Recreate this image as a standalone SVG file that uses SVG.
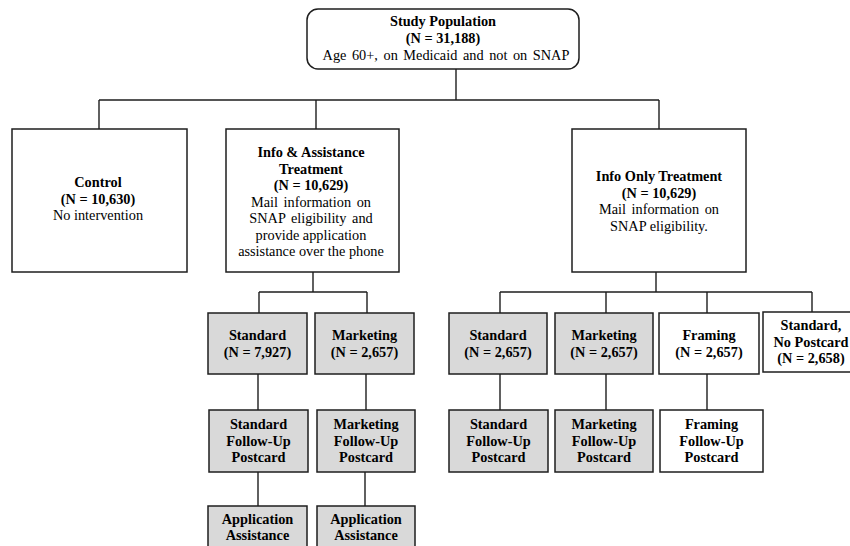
<svg xmlns="http://www.w3.org/2000/svg" width="850" height="546" viewBox="0 0 850 546">
<style>
.box{fill:#fff;stroke:#1e1e1e;stroke-width:1.5}
.g{fill:#d9d9d9}
.c{fill:none;stroke:#1e1e1e;stroke-width:1.4}
text{font-family:"Liberation Serif","Times New Roman",serif;font-size:14.3px;fill:#000;text-anchor:middle}
.b{font-weight:bold}
.w{word-spacing:2px}
</style>
<rect width="850" height="546" fill="#fff"/>
<g id="connectors">
<path class="c" d="M456,69V100M99,100H659M99,100V129M316,100V129M659,100V129"/>
<path class="c" d="M313,272V292M259,292H367M259,292V313M367,292V313"/>
<path class="c" d="M258,374V410M366,374V410M258,472V506M365,472V506"/>
<path class="c" d="M656,272V292M500,292H812M500,292V313M606,292V313M707,292V313M812,292V312"/>
<path class="c" d="M500,374V410M606,374V410M707,374V410"/>
</g>
<g id="study-population">
<rect class="box" x="307" y="9" width="272" height="60" rx="11"/>
<text x="443" y="26" class="b">Study Population</text>
<text x="443" y="43" class="b">(N = 31,188)</text>
<text x="446" y="60" class="w">Age 60+, on Medicaid and not on SNAP</text>
</g>
<g id="control">
<rect class="box" x="12" y="129" width="175" height="143"/>
<text x="98" y="187" class="b">Control</text>
<text x="98" y="204" class="b">(N = 10,630)</text>
<text x="98" y="220">No intervention</text>
</g>
<g id="info-assistance">
<rect class="box" x="226" y="129" width="173" height="143"/>
<text x="311" y="157" class="b">Info &amp; Assistance</text>
<text x="311" y="173.5" class="b">Treatment</text>
<text x="311" y="190" class="b">(N = 10,629)</text>
<text x="311" y="206.5" class="w">Mail information on</text>
<text x="311" y="223" class="w">SNAP eligibility and</text>
<text x="311" y="239.5">provide application</text>
<text x="311" y="256">assistance over the phone</text>
</g>
<g id="info-only">
<rect class="box" x="572" y="129" width="174" height="143"/>
<text x="659" y="181" class="b">Info Only Treatment</text>
<text x="659" y="197.5" class="b">(N = 10,629)</text>
<text x="659" y="214" class="w">Mail information on</text>
<text x="659" y="231">SNAP eligibility.</text>
</g>
<g id="ia-standard">
<rect class="box g" x="208" y="313" width="99" height="61"/>
<text x="257.5" y="340" class="b">Standard</text>
<text x="257.5" y="357" class="b">(N = 7,927)</text>
</g>
<g id="ia-marketing">
<rect class="box g" x="315" y="313" width="99" height="61"/>
<text x="364.5" y="340" class="b">Marketing</text>
<text x="364.5" y="357" class="b">(N = 2,657)</text>
</g>
<g id="ia-standard-followup">
<rect class="box g" x="209" y="410" width="99" height="62"/>
<text x="258.5" y="429" class="b">Standard</text>
<text x="258.5" y="445.5" class="b">Follow-Up</text>
<text x="258.5" y="462" class="b">Postcard</text>
</g>
<g id="ia-marketing-followup">
<rect class="box g" x="317" y="410" width="98" height="62"/>
<text x="366" y="429" class="b">Marketing</text>
<text x="366" y="445.5" class="b">Follow-Up</text>
<text x="366" y="462" class="b">Postcard</text>
</g>
<g id="ia-standard-application">
<rect class="box g" x="208" y="506" width="99" height="50"/>
<text x="257.5" y="524" class="b">Application</text>
<text x="257.5" y="540" class="b">Assistance</text>
</g>
<g id="ia-marketing-application">
<rect class="box g" x="317" y="506" width="98" height="50"/>
<text x="366" y="524" class="b">Application</text>
<text x="366" y="540" class="b">Assistance</text>
</g>
<g id="io-standard">
<rect class="box g" x="449" y="313" width="98" height="61"/>
<text x="498" y="340" class="b">Standard</text>
<text x="498" y="357" class="b">(N = 2,657)</text>
</g>
<g id="io-marketing">
<rect class="box g" x="555" y="313" width="98" height="61"/>
<text x="604" y="340" class="b">Marketing</text>
<text x="604" y="357" class="b">(N = 2,657)</text>
</g>
<g id="io-framing">
<rect class="box" x="659" y="313" width="100" height="61"/>
<text x="709" y="340" class="b">Framing</text>
<text x="709" y="357" class="b">(N = 2,657)</text>
</g>
<g id="io-standard-no-postcard">
<rect class="box" x="763" y="312" width="97" height="60"/>
<text x="811" y="330" class="b">Standard,</text>
<text x="811" y="347" class="b">No Postcard</text>
<text x="811" y="363" class="b">(N = 2,658)</text>
</g>
<g id="io-standard-followup">
<rect class="box g" x="449" y="410" width="99" height="62"/>
<text x="498.5" y="429" class="b">Standard</text>
<text x="498.5" y="445.5" class="b">Follow-Up</text>
<text x="498.5" y="462" class="b">Postcard</text>
</g>
<g id="io-marketing-followup">
<rect class="box g" x="555" y="410" width="98" height="62"/>
<text x="604" y="429" class="b">Marketing</text>
<text x="604" y="445.5" class="b">Follow-Up</text>
<text x="604" y="462" class="b">Postcard</text>
</g>
<g id="io-framing-followup">
<rect class="box" x="660" y="410" width="103" height="62"/>
<text x="711.5" y="429" class="b">Framing</text>
<text x="711.5" y="445.5" class="b">Follow-Up</text>
<text x="711.5" y="462" class="b">Postcard</text>
</g>
</svg>
